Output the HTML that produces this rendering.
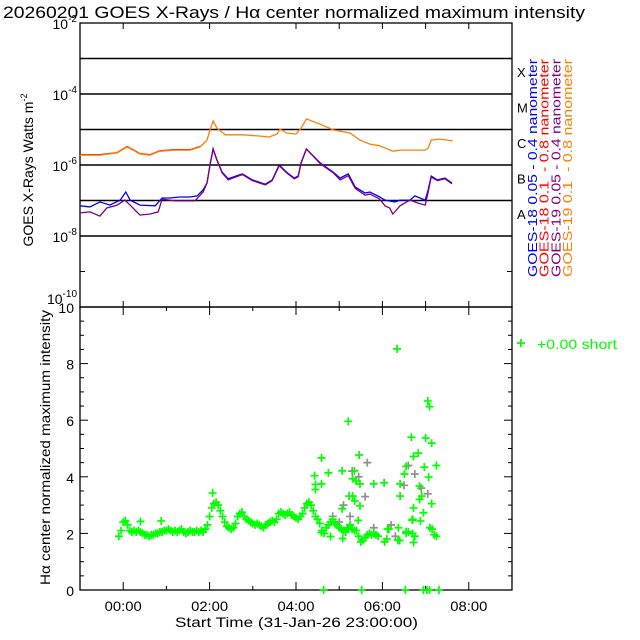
<!DOCTYPE html>
<html><head><meta charset="utf-8"><style>
html,body{margin:0;padding:0;background:#fff}
svg{display:block}
text{font-family:"Liberation Sans",sans-serif}
.pre{white-space:pre}
</style></head><body>
<svg id="chart" width="640" height="640" viewBox="0 0 640 640" xmlns="http://www.w3.org/2000/svg">
<rect width="640" height="640" fill="#fff"/>
<text x="3" y="18" font-size="17" textLength="582" lengthAdjust="spacingAndGlyphs">20260201 GOES X-Rays / Hα center normalized maximum intensity</text>
<g id="topPanel"></g>
<g id="botPanel"></g>
</svg>
<script>
// ---- data ----
const orangeT=[-1.0,-0.54,-0.14,0.09,0.39,0.62,0.85,1.2,1.55,1.78,1.94,2.01,2.08,2.17,2.36,2.76,3.11,3.38,3.56,3.63,3.78,4.0,4.12,4.24,4.56,4.86,5.25,5.48,5.71,5.94,6.24,6.41,6.99,7.06,7.13,7.33,7.63];
const orangeV=[-5.72,-5.72,-5.66,-5.49,-5.69,-5.72,-5.61,-5.58,-5.58,-5.49,-5.30,-5.01,-4.76,-4.96,-5.15,-5.15,-5.18,-5.21,-5.13,-4.99,-5.10,-5.13,-4.96,-4.70,-4.85,-5.01,-5.10,-5.30,-5.41,-5.46,-5.61,-5.58,-5.58,-5.52,-5.30,-5.27,-5.32];
const redT=[-1.0,-0.54,-0.14,0.09,0.39,0.62,0.85,1.2,1.55,1.78];
const redV=[-5.71,-5.71,-5.65,-5.48,-5.68,-5.71,-5.60,-5.57,-5.57,-5.48];
const blueT=[-1.0,-0.77,-0.54,-0.31,-0.07,0.06,0.16,0.39,0.74,0.9,1.08,1.31,1.55,1.71,1.85,1.94,2.01,2.08,2.17,2.29,2.43,2.69,2.76,2.99,3.29,3.45,3.61,3.78,3.96,4.05,4.12,4.24,4.56,4.86,5.02,5.21,5.37,5.6,5.71,5.94,6.06,6.29,6.41,6.64,6.75,6.99,7.06,7.13,7.27,7.45,7.61];
const blueV=[-7.15,-7.18,-7.04,-7.13,-6.99,-6.76,-6.99,-7.13,-7.15,-6.93,-6.93,-6.90,-6.90,-6.87,-6.70,-6.51,-6.0,-5.55,-5.86,-6.20,-6.39,-6.28,-6.25,-6.42,-6.54,-6.42,-6.0,-6.20,-6.37,-6.31,-5.92,-5.55,-5.94,-6.20,-6.37,-6.25,-6.62,-6.79,-6.76,-6.90,-6.99,-7.04,-6.99,-6.99,-6.87,-6.99,-6.70,-6.31,-6.42,-6.37,-6.51];
const purpleT=[-1.0,-0.77,-0.54,-0.38,-0.14,0.04,0.16,0.39,0.62,0.81,0.9,1.2,1.66,1.85,1.94,2.01,2.08,2.17,2.29,2.43,2.69,2.76,2.99,3.29,3.45,3.61,3.78,3.96,4.05,4.12,4.24,4.56,4.86,5.02,5.21,5.37,5.6,5.71,5.94,6.06,6.17,6.24,6.41,6.64,6.82,6.99,7.06,7.13,7.27,7.45,7.61];
const purpleV=[-7.35,-7.32,-7.44,-7.21,-7.13,-6.99,-7.13,-7.41,-7.38,-7.32,-6.96,-7.01,-7.01,-6.76,-6.51,-6.0,-5.55,-5.86,-6.22,-6.42,-6.30,-6.27,-6.44,-6.56,-6.44,-6.02,-6.22,-6.39,-6.33,-5.94,-5.55,-5.96,-6.22,-6.42,-6.30,-6.66,-6.85,-6.82,-6.96,-7.15,-7.21,-7.38,-7.15,-6.99,-7.07,-7.13,-6.76,-6.34,-6.44,-6.39,-6.53];
const haT=[-0.10,-0.05,0.00,0.05,0.10,0.15,0.20,0.25,0.30,0.35,0.40,0.45,0.50,0.55,0.60,0.65,0.70,0.75,0.80,0.85,0.90,0.95,1.00,1.05,1.10,1.15,1.20,1.25,1.30,1.35,1.40,1.45,1.50,1.55,1.60,1.65,1.70,1.75,1.80,1.85,1.90,1.95,2.00,2.05,2.10,2.15,2.20,2.25,2.30,2.35,2.40,2.45,2.50,2.55,2.60,2.65,2.70,2.75,2.80,2.85,2.90,2.95,3.00,3.05,3.10,3.15,3.20,3.25,3.30,3.35,3.40,3.45,3.50,3.55,3.60,3.65,3.70,3.75,3.80,3.85,3.90,3.95,4.00,4.05,4.10,4.15,4.20,4.25,4.30,4.35,4.40,4.45,4.50,4.55,4.60,4.65,4.70,4.75,4.80,4.85,4.90,4.95,5.00,5.05,5.10,5.15,5.20,5.25,5.30,5.35,5.40,5.45,5.50,5.55,5.60,5.65,5.70,5.75,5.80,5.85,5.90,6.05,6.10,6.15,6.40,6.55,6.60,6.70,6.75,7.10,7.15,7.20,7.25];
const haV=[1.9,2.1,2.4,2.45,2.3,2.1,2.05,2.1,2.05,2.1,2.05,2.0,1.95,1.95,1.9,1.95,1.95,2.0,2.0,2.05,2.05,2.1,2.1,2.15,2.1,2.05,2.1,2.05,2.1,2.15,2.05,2.0,2.05,2.1,2.05,2.05,2.1,2.05,2.1,2.05,2.15,2.3,2.6,2.9,3.05,3.1,3.0,2.8,2.6,2.4,2.25,2.2,2.15,2.2,2.35,2.6,2.7,2.75,2.6,2.5,2.45,2.4,2.35,2.3,2.35,2.3,2.25,2.2,2.3,2.35,2.4,2.45,2.4,2.5,2.7,2.75,2.7,2.65,2.7,2.75,2.65,2.6,2.55,2.5,2.6,2.7,2.9,3.05,3.1,3.0,2.8,2.6,2.5,2.35,2.1,2.0,2.2,2.3,2.4,2.5,2.35,2.3,2.2,2.15,2.1,2.05,2.2,2.3,2.15,2.1,2.1,1.9,1.7,1.75,1.85,1.95,2.0,1.95,2.0,1.95,1.9,1.7,1.8,2.15,1.75,2.0,2.05,2.5,1.9,2.2,2.15,1.95,1.9];
const outT=[2.07,0.40,0.88,4.59,4.43,4.45,4.45,4.59,4.75,5.07,5.21,5.35,5.46,5.31,5.39,5.48,5.23,5.31,5.36,5.48,5.44,5.80,6.04,6.34,6.41,6.41,6.51,6.55,6.67,6.72,6.83,6.86,6.91,6.86,6.95,7.00,6.97,7.05,7.09,7.14,7.07,7.14,7.25,6.72,6.69,6.88,6.37,6.12,5.08,4.80,5.07,5.21,4.59,6.70,6.55,6.72,6.36,4.64,5.52,6.53,6.95,7.03,7.09,7.31];
const outV=[3.43,2.42,2.44,4.67,4.04,3.73,3.55,3.75,4.14,4.21,5.96,4.21,4.77,3.93,3.85,3.75,3.32,3.32,3.15,2.97,2.46,3.75,3.79,8.52,3.75,3.32,4.10,4.37,5.40,4.72,4.84,3.67,3.32,3.2,2.73,5.37,4.34,6.68,6.48,5.19,3.99,3.05,4.40,2.9,2.47,2.44,2.2,2.15,1.82,1.89,2.87,2.15,2.03,1.99,2.06,1.68,1.76,0,0,0,0,0,0,0];
const grayT=[4.85,5.0,5.1,5.3,5.45,5.6,5.8,6.2,6.5,6.6,6.75,6.9,7.05,6.3,5.65,5.25];
const grayV=[2.6,2.4,3.0,4.2,4.0,3.3,2.2,2.3,3.7,4.4,4.1,3.6,3.4,1.9,4.5,2.6];
const xTickLabels=["00:00","02:00","04:00","06:00","08:00"];
const xTickHours=[0,2,4,6,8];
const yTopExp=[-2,-4,-6,-8,-10];
const yBotTicks=[0,2,4,6,8,10];
const classLabels=["X","M","C","B","A"];
const classExp=[-4,-5,-6,-7,-8];
const legendText=["GOES-18 0.05 - 0.4 nanometer","GOES-18 0.1  - 0.8 nanometer","GOES-19 0.05 - 0.4 nanometer","GOES-19 0.1  - 0.8 nanometer"];
const legendColors=["#0000ff","#ff0000","#800080","#ff8000"];

// ---- axes ----
const L=80,R=512,T1=23,B1=307,T2=307,B2=590;
const xs=h=>L+(h+1)*(R-L)/10;
const yTop=e=>T1+(-2-e)*(B1-T1)/8;
const yBot=v=>B2-v*(B2-T2)/10;
const NS="http://www.w3.org/2000/svg";
const topG=document.getElementById('topPanel'),botG=document.getElementById('botPanel');
function mk(parent,tag,attrs,txt){const e=document.createElementNS(NS,tag);for(const k in attrs)e.setAttribute(k,attrs[k]);if(txt!==undefined)e.textContent=txt;parent.appendChild(e);return e;}

let e=mk(topG,'rect',{x:L,y:T1,width:R-L,height:B1-T1,fill:'none',stroke:'#000','stroke-width':1.3});


for(let ex=-3;ex>=-8;ex--){
  e=mk(topG,'line',{x1:L,x2:R,y1:yTop(ex),y2:yTop(ex),stroke:'#000','stroke-width':1.5});
  
  
}
for(let ex=-2;ex>=-10;ex--){
  mk(topG,'line',{x1:L,x2:L+5,y1:yTop(ex),y2:yTop(ex),stroke:'#000'});
  mk(topG,'line',{x1:R-5,x2:R,y1:yTop(ex),y2:yTop(ex),stroke:'#000'});
}
[0,2,4,5,6,7,8].forEach(h=>{
  mk(topG,'line',{x1:xs(h),x2:xs(h),y1:T1,y2:T1+6,stroke:'#000'});
  mk(topG,'line',{x1:xs(h),x2:xs(h),y1:B1,y2:B1-6,stroke:'#000'});
});
yTopExp.forEach(ex=>{
  const yy=ex===-10?yTop(ex)-3:yTop(ex)+6;
  const t=mk(topG,'text',{x:L-3,y:yy,'font-size':14,'text-anchor':'end'});
  
  
  mk(t,'tspan',{},'10');mk(t,'tspan',{dy:-7,'font-size':10},String(ex));
});
e=mk(topG,'text',{transform:'translate(33,170) rotate(-90)','font-size':14,'text-anchor':'middle'});


mk(e,'tspan',{},'GOES X-Rays Watts m');mk(e,'tspan',{dy:-6,'font-size':9},'-2');
classLabels.forEach((c,i)=>{
  const t=mk(topG,'text',{x:517,y:yTop(classExp[i])-17,'font-size':13},c);
  
  
});
legendText.forEach((s,i)=>{
  const t=mk(topG,'text',{transform:`translate(${537+i*11.7},277) rotate(-90)`,'font-size':13,fill:legendColors[i],'class':'pre',textLength:218,lengthAdjust:'spacingAndGlyphs'},s);
  
  
});
function line(T,V,color,name){
  const d=T.map((t,i)=>(i?'L':'M')+xs(t).toFixed(1)+' '+yTop(V[i]).toFixed(1)).join(' ');
  const p=mk(topG,'path',{d,fill:'none',stroke:color,'stroke-width':1.3});
  
  
}
line(redT,redV,'#ff0000','goes18-long-line');
line(orangeT,orangeV,'#ff8000','goes19-long-line');
line(blueT,blueV,'#0000ff','goes18-short-line');
line(purpleT,purpleV,'#800080','goes19-short-line');

e=mk(botG,'rect',{x:L,y:T2,width:R-L,height:B2-T2,fill:'none',stroke:'#000','stroke-width':1.3});


for(let v=0;v<=10;v+=0.5){
  const len=(v%2===0)?8:4;
  mk(botG,'line',{x1:L,x2:L+len,y1:yBot(v),y2:yBot(v),stroke:'#000'});
  mk(botG,'line',{x1:R-len,x2:R,y1:yBot(v),y2:yBot(v),stroke:'#000'});
}
for(let h=-1;h<=9;h++){
  const len=(h%2===0)?8:4;
  mk(botG,'line',{x1:xs(h),x2:xs(h),y1:B2,y2:B2-len,stroke:'#000'});
  mk(botG,'line',{x1:xs(h),x2:xs(h),y1:T2,y2:T2+len,stroke:'#000'});
}
yBotTicks.forEach(v=>{
  const t=mk(botG,'text',{x:L-6,y:yBot(v)+6,'font-size':14,'text-anchor':'end'},String(v));
  
  
});
xTickHours.forEach((h,i)=>{
  const t=mk(botG,'text',{x:xs(h),y:611,'font-size':14,'text-anchor':'middle',textLength:37,lengthAdjust:'spacingAndGlyphs'},xTickLabels[i]);
  
  
});
e=mk(botG,'text',{x:175,y:627,'font-size':14,textLength:243,lengthAdjust:'spacingAndGlyphs'},'Start Time (31-Jan-26 23:00:00)');


e=mk(botG,'text',{transform:'translate(50,585) rotate(-90)','font-size':14,textLength:275,lengthAdjust:'spacingAndGlyphs'},'Hα center normalized maximum intensity');


function plus(x,y,c,name){
  const p=mk(botG,'path',{d:`M${x-4} ${y}H${x+4}M${x} ${y-4}V${y+4}`,stroke:c,'stroke-width':1.7});
  
  
}
grayT.forEach((t,i)=>plus(xs(t),yBot(grayV[i]),'#909090','halpha-gray-point'));
haT.forEach((t,i)=>plus(xs(t),yBot(haV[i]),'#00ff00','halpha-point'));
outT.forEach((t,i)=>plus(xs(t),yBot(outV[i]),'#00ff00','halpha-outlier-point'));
plus(521,343,'#00ff00','legend-marker');
e=mk(botG,'text',{x:537,y:349,'font-size':14,fill:'#00ff00',textLength:80,lengthAdjust:'spacingAndGlyphs'},'+0.00 short');


</script>
</body></html>
